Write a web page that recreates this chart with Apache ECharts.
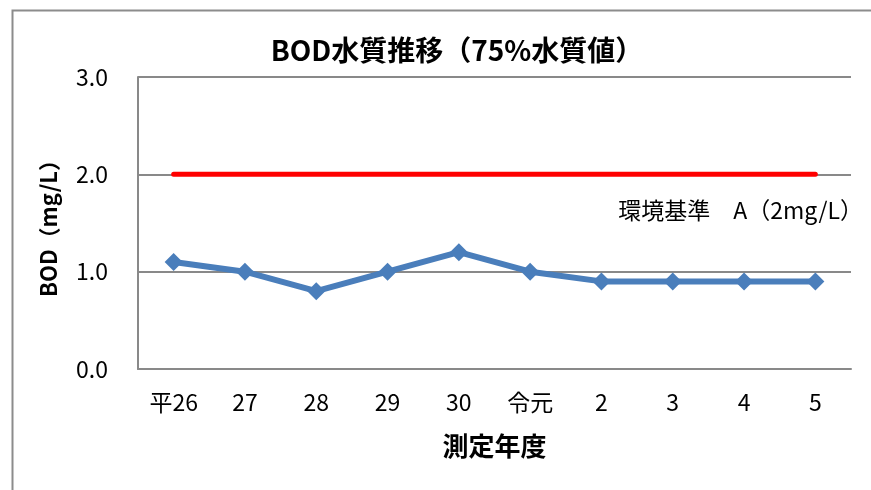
<!DOCTYPE html>
<html><head><meta charset="utf-8">
<script src="https://cdn.jsdelivr.net/npm/echarts@6/dist/echarts.min.js"></script>
<style>html,body{margin:0;padding:0;background:#fff}#c{width:871px;height:490px}</style>
</head><body><div id="c"></div>
<script>
const categories = ['平26','27','28','29','30','令元','2','3','4','5'];
const bodValues = [1.1, 1.0, 0.8, 1.0, 1.2, 1.0, 0.9, 0.9, 0.9, 0.9];
const standardValues = [2, 2, 2, 2, 2, 2, 2, 2, 2, 2];
const yTicks = [0, 1, 2, 3];
const titleText = 'BOD水質推移（75%水質値）';
const yName = 'BOD（mg/L）';
const xName = '測定年度';
const noteText = '環境基準　A（2mg/L）';

const FF = '"Noto Sans CJK JP", "Noto Sans", sans-serif';
const chart = echarts.init(document.getElementById('c'), null, {renderer:'canvas'});
chart.setOption({
  animation: false,
  backgroundColor: '#fff',
  title: {
    text: titleText, left: 452, top: 31, textAlign: 'center',
    textStyle: {fontFamily: FF, fontSize: 28, fontWeight: 'bold', color: '#000'}
  },
  grid: {left: 138, right: 20, top: 77, bottom: 121},
  xAxis: {
    type: 'category', data: categories, boundaryGap: true,
    name: xName, nameLocation: 'middle', nameGap: 64,
    nameTextStyle: {fontFamily: FF, fontSize: 26, fontWeight: 'bold', color: '#000'},
    axisLine: {lineStyle: {color: '#898989', width: 2}},
    axisTick: {show: false},
    axisLabel: {fontFamily: FF, fontSize: 23, color: '#000', margin: 22}
  },
  yAxis: {
    type: 'value', min: 0, max: 3, interval: 1,
    name: yName, nameLocation: 'middle', nameGap: 78,
    nameTextStyle: {fontFamily: FF, fontSize: 22, fontWeight: 'bold', color: '#000'},
    axisLine: {show: true, lineStyle: {color: '#898989', width: 2}},
    axisTick: {show: false},
    axisLabel: {fontFamily: FF, fontSize: 23, color: '#000', margin: 30,
      formatter: v => yTicks.includes(v) ? v.toFixed(1) : ''},
    splitLine: {lineStyle: {color: '#898989', width: 2}}
  },
  series: [
    {
      type: 'line', data: standardValues, symbol: 'none',
      lineStyle: {color: '#ff0000', width: 5, cap: 'round'},
      z: 3
    },
    {
      type: 'line', data: bodValues, symbol: 'diamond', symbolSize: 18,
      itemStyle: {color: '#4a7ebb'},
      lineStyle: {color: '#4a7ebb', width: 6},
      z: 4
    }
  ],
  graphic: [
    {type: 'rect', shape: {x: 12.5, y: 10.5, width: 900, height: 600},
      style: {fill: 'none', stroke: '#8c8c8c', lineWidth: 2}, z: -1},
    {type: 'text', right: 8, top: 199,
      style: {text: noteText, fontFamily: FF, fontSize: 23, fill: '#000'}}
  ]
});
</script></body></html>
